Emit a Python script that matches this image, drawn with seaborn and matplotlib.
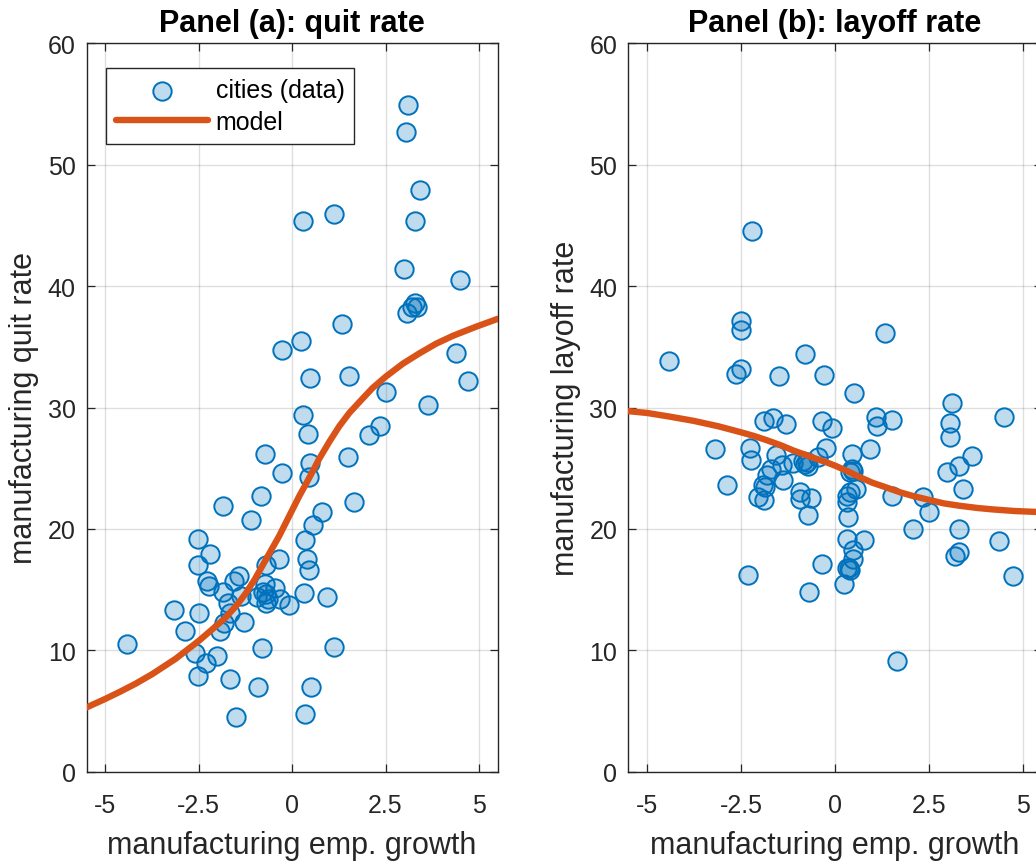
import matplotlib
matplotlib.use("Agg")
import matplotlib.pyplot as plt
import seaborn as sns
import pandas as pd

# ---------------- data ----------------
quit_x = [3.11, 3.06, 3.42, 0.29, 1.12, 3.30, 2.99, 4.49, 3.28, 3.22, 3.07, 3.34,
          1.34, 0.23, -0.28, 4.38, 0.49, 1.52, 4.72, 2.50, 3.64, 0.29, 0.43, 2.35,
          2.06, -0.73, -0.26, 0.49, 0.46, 1.50, 1.66, -0.84, -1.86, -1.11, 0.79, 0.55,
          0.35, -2.52, -2.20, -2.52, -0.69, -0.35, 0.41, 0.46, -2.27, -2.22, -1.55, -1.42,
          -1.85, -0.73, -0.46, -0.95, -0.69, -0.79, -0.64, -0.69, -1.37, -0.33, -0.08, 0.32,
          0.92, -1.73, -1.67, -1.83, -1.92, -1.29, -3.17, -2.50, -2.87, -4.42, -2.61, -2.31,
          -2.00, -2.52, -1.67, -0.81, 1.11, -0.91, 0.50, -1.49, 0.35]
quit_y = [54.9, 52.7, 47.9, 45.4, 45.9, 45.4, 41.4, 40.5, 38.6, 38.3, 37.8, 38.3,
          36.9, 35.5, 34.7, 34.5, 32.4, 32.6, 32.2, 31.3, 30.2, 29.4, 27.8, 28.45,
          27.7, 26.2, 24.6, 25.4, 24.3, 25.9, 22.2, 22.7, 21.9, 20.7, 21.4, 20.3,
          19.1, 19.2, 17.9, 17.0, 17.05, 17.5, 17.5, 16.6, 15.7, 15.3, 15.7, 16.1,
          14.8, 15.5, 15.1, 14.4, 14.6, 14.8, 14.2, 13.9, 14.45, 14.2, 13.7, 14.7,
          14.4, 13.9, 13.1, 12.25, 11.6, 12.3, 13.3, 13.1, 11.6, 10.5, 9.8, 8.95,
          9.5, 7.9, 7.6, 10.2, 10.3, 7.0, 6.95, 4.5, 4.75]

layoff_x = [-2.21, -2.51, -2.51, 1.33, -4.43, -0.80, -2.51, -2.64, -1.49, -0.29, 0.51, 3.11,
            3.07, 3.07, 4.51, -1.89, -1.66, -1.29, -0.35, -0.08, 1.09, 1.11, 1.52, -3.18,
            -2.27, -2.24, -0.25, 0.46, 0.93, -1.57, -1.42, -1.11, -0.86, -0.75, -0.71, -0.80,
            -0.45, -1.69, -1.82, -1.91, -1.38, -2.87, 0.46, 0.49, 0.40, 3.64, 3.31, 2.99,
            3.42, 2.34, 1.51, -2.05, -1.89, -1.85, -0.93, -0.93, -0.65, -0.73, 0.33, 0.31,
            0.55, 0.40, 0.34, 2.49, 2.07, 3.31, 4.37, 3.29, 3.20, 4.74, 0.31, 0.78,
            0.49, 0.49, 0.38, 0.31, 0.40, 0.24, -0.35, -0.69, -2.32, 1.66]
layoff_y = [44.5, 37.15, 36.4, 36.1, 33.8, 34.4, 33.2, 32.8, 32.6, 32.7, 31.2, 30.4,
            28.7, 27.6, 29.2, 28.9, 29.1, 28.6, 28.9, 28.3, 29.2, 28.5, 29.0, 26.6,
            26.7, 25.7, 26.7, 26.2, 26.6, 26.1, 25.3, 25.4, 25.6, 25.5, 25.2, 25.35,
            25.9, 24.9, 24.4, 23.6, 24.0, 23.6, 24.9, 24.8, 24.7, 26.0, 25.2, 24.7,
            23.3, 22.65, 22.7, 22.6, 22.4, 23.45, 23.0, 22.5, 22.55, 21.15, 22.7, 22.2,
            23.3, 23.0, 21.0, 21.4, 20.0, 20.0, 19.0, 18.1, 17.75, 16.15, 19.2, 19.1,
            18.3, 17.5, 16.8, 16.75, 16.6, 15.5, 17.1, 14.8, 16.2, 9.1]

quit_model_x = [-5.5, -5.0, -4.6, -4.19, -3.74, -3.12, -2.49, -2.13, -1.78, -1.46, -1.24,
                -1.0, -0.79, -0.57, -0.35, -0.17, 0.01, 0.19, 0.37, 0.55, 0.72, 0.99,
                1.26, 1.53, 1.80, 2.15, 2.51, 2.96, 3.40, 3.85, 4.30, 4.92, 5.5]
quit_model_y = [5.3, 6.0, 6.6, 7.25, 8.05, 9.3, 10.8, 11.75, 12.7, 13.8, 14.7,
                15.85, 17.0, 18.2, 19.4, 20.5, 21.6, 22.7, 23.7, 24.75, 25.75, 27.15,
                28.45, 29.55, 30.45, 31.6, 32.55, 33.6, 34.45, 35.25, 35.9, 36.65, 37.3]

layoff_model_x = [-5.5, -5.0, -4.4, -3.76, -3.1, -2.49, -2.15, -1.81, -1.45, -1.10, -0.83,
                  -0.57, -0.28, 0.01, 0.34, 0.67, 1.0, 1.38, 1.75, 2.09, 2.49, 2.9,
                  3.33, 3.8, 4.22, 4.8, 5.35, 5.5]
layoff_model_y = [29.7, 29.55, 29.25, 28.9, 28.45, 27.95, 27.65, 27.3, 26.9, 26.45, 26.15,
                  25.85, 25.55, 25.2, 24.75, 24.25, 23.8, 23.4, 23.0, 22.7, 22.4, 22.1,
                  21.9, 21.72, 21.6, 21.47, 21.4, 21.38]

xticks = [-5, -2.5, 0, 2.5, 5]
xtick_labels = ["-5", "-2.5", "0", "2.5", "5"]
yticks = [0, 10, 20, 30, 40, 50, 60]
ytick_labels = ["0", "10", "20", "30", "40", "50", "60"]

titles = ["Panel (a): quit rate", "Panel (b): layoff rate"]
ylabels = ["manufacturing quit rate", "manufacturing layoff rate"]
xlabel = "manufacturing emp. growth"
legend_labels = ["cities (data)", "model"]

# ---------------- style ----------------
sns.set_style("ticks")
plt.rcParams["font.family"] = ["Liberation Sans", "DejaVu Sans"]
plt.rcParams["axes.unicode_minus"] = False

BLUE = (0.0, 0.447, 0.741)
ORANGE = (0.851, 0.325, 0.098)
DARK = "#262626"

W, H = 1036, 862
fig = plt.figure(figsize=(W / 100, H / 100), dpi=100)
bottom = (H - 772.7) / H
height = 728.4 / H
ax1 = fig.add_axes([86.7 / W, bottom, 410.9 / W, height])
ax2 = fig.add_axes([628.3 / W, bottom, 413.3 / W, height])

panels = [
    (ax1, quit_x, quit_y, quit_model_x, quit_model_y),
    (ax2, layoff_x, layoff_y, layoff_model_x, layoff_model_y),
]

for i, (ax, px, py, mx, my) in enumerate(panels):
    df_pts = pd.DataFrame({"x": px, "y": py})
    df_mod = pd.DataFrame({"x": mx, "y": my})
    sns.scatterplot(data=df_pts, x="x", y="y", ax=ax, s=175, linewidth=1.4,
                    label=legend_labels[0], zorder=3)
    coll = ax.collections[-1]
    coll.set_facecolor((*BLUE, 0.25))
    coll.set_edgecolor((*BLUE, 1.0))
    sns.lineplot(data=df_mod, x="x", y="y", ax=ax, color=ORANGE, linewidth=4.6,
                 label=legend_labels[1], zorder=4, sort=True)
    ax.lines[-1].set_solid_joinstyle("round")

    ax.set_xlim(-5.5, 5.5)
    ax.set_ylim(0, 60)
    ax.set_xticks(xticks)
    ax.set_xticklabels(xtick_labels)
    ax.set_yticks(yticks)
    ax.set_yticklabels(ytick_labels)
    ax.grid(True, color=DARK, alpha=0.15, linewidth=1.0)
    ax.set_axisbelow(True)
    for sp in ax.spines.values():
        sp.set_visible(True)
        sp.set_color(DARK)
        sp.set_linewidth(1.0)
    ax.tick_params(axis="both", direction="in", length=5.5, width=0.9,
                   colors=DARK, labelsize=18, top=True, right=True)
    ax.tick_params(axis="x", pad=15)
    ax.tick_params(axis="y", pad=8)
    ax.set_title(titles[i], fontsize=22, fontweight="bold", color="black", pad=9)
    ax.set_xlabel(xlabel, fontsize=22, color=DARK, labelpad=10)
    ax.set_ylabel(ylabels[i], fontsize=22, color=DARK, labelpad=6)

    if i == 0:
        leg = ax.legend(loc="upper left", bbox_to_anchor=(0.046, 0.966),
                        borderaxespad=0, fontsize=18, frameon=True, fancybox=False,
                        framealpha=1, edgecolor=DARK, handlelength=3.7,
                        handletextpad=0.3, borderpad=0.4, labelspacing=0.3,
                        scatterpoints=1)
        leg.get_frame().set_linewidth(1.0)
        for t in leg.get_texts():
            t.set_color("black")
    else:
        if ax.get_legend() is not None:
            ax.get_legend().remove()

fig.savefig("out.png", dpi=100)
